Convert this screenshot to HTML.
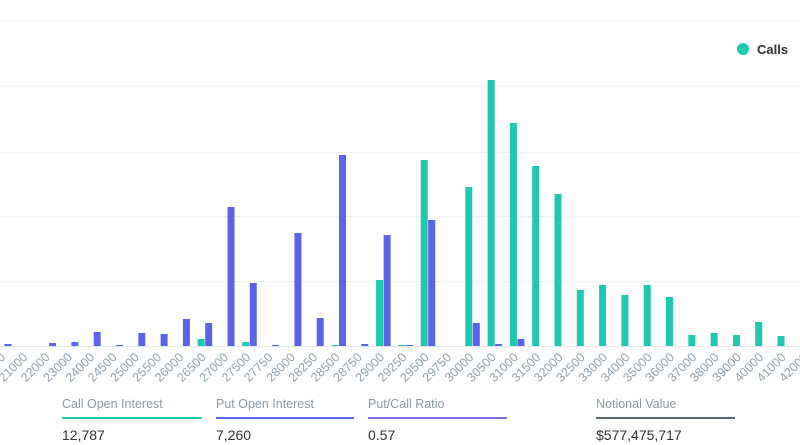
<!DOCTYPE html>
<html><head><meta charset="utf-8"><style>
body{margin:0;background:#fff;width:800px;height:445px;overflow:hidden;font-family:"Liberation Sans",sans-serif}
svg{position:absolute;left:0;top:0}
.l{font-size:12.5px;fill:#93a3ad}
</style></head><body>
<svg width="800" height="445" viewBox="0 0 800 445">
<g stroke="#eef0f2" stroke-width="1">
<line x1="0" x2="800" y1="20.5" y2="20.5"/><line x1="0" x2="800" y1="86.5" y2="86.5"/>
<line x1="0" x2="800" y1="152.5" y2="152.5"/><line x1="0" x2="800" y1="216.5" y2="216.5"/>
<line x1="0" x2="800" y1="281.5" y2="281.5"/><line x1="0" x2="800" y1="346.5" y2="346.5" stroke="#e3e7ea"/>
</g>
<circle cx="743" cy="49" r="6" fill="#1fc8ae"/>
<text x="757" y="54" font-size="13" font-weight="bold" fill="#333">Calls</text>
<g fill="#5c63e8">
<rect x="4.5" y="344" width="7" height="2"/>
<rect x="49.1" y="343" width="7" height="3"/>
<rect x="71.4" y="342" width="7" height="4"/>
<rect x="93.7" y="332" width="7" height="14"/>
<rect x="116" y="345" width="7" height="1"/>
<rect x="138.3" y="333" width="7" height="13"/>
<rect x="160.6" y="334" width="7" height="12"/>
<rect x="182.9" y="319" width="7" height="27"/>
<rect x="205.2" y="323" width="7" height="23"/>
<rect x="227.5" y="207" width="7" height="139"/>
<rect x="249.8" y="283" width="7" height="63"/>
<rect x="272.1" y="345" width="7" height="1"/>
<rect x="294.4" y="233" width="7" height="113"/>
<rect x="316.7" y="318" width="7" height="28"/>
<rect x="339" y="155" width="7" height="191"/>
<rect x="361.3" y="344" width="7" height="2"/>
<rect x="383.6" y="235" width="7" height="111"/>
<rect x="405.9" y="345" width="7" height="1"/>
<rect x="428.2" y="220" width="7" height="126"/>
<rect x="472.8" y="323" width="7" height="23"/>
<rect x="495.1" y="344" width="7" height="2"/>
<rect x="517.4" y="339" width="7" height="7"/>
</g>
<g fill="#1fc8ae">
<rect x="197.7" y="339" width="7" height="7"/>
<rect x="242.3" y="342" width="7" height="4"/>
<rect x="331.5" y="345" width="7" height="1"/>
<rect x="376.1" y="280" width="7" height="66"/>
<rect x="398.4" y="345" width="7" height="1"/>
<rect x="420.7" y="160" width="7" height="186"/>
<rect x="465.3" y="187" width="7" height="159"/>
<rect x="487.6" y="80" width="7" height="266"/>
<rect x="509.9" y="123" width="7" height="223"/>
<rect x="532.2" y="166" width="7" height="180"/>
<rect x="554.5" y="194" width="7" height="152"/>
<rect x="576.8" y="290" width="7" height="56"/>
<rect x="599.1" y="285" width="7" height="61"/>
<rect x="621.4" y="295" width="7" height="51"/>
<rect x="643.7" y="285" width="7" height="61"/>
<rect x="666" y="297" width="7" height="49"/>
<rect x="688.3" y="335" width="7" height="11"/>
<rect x="710.6" y="333" width="7" height="13"/>
<rect x="732.9" y="335" width="7" height="11"/>
<rect x="755.2" y="322" width="7" height="24"/>
<rect x="777.5" y="336" width="7" height="10"/>
</g>
<g class="l" text-anchor="end">
<text transform="translate(6,358) rotate(-45)">20000</text>
<text transform="translate(28.3,358) rotate(-45)">21000</text>
<text transform="translate(50.6,358) rotate(-45)">22000</text>
<text transform="translate(72.9,358) rotate(-45)">23000</text>
<text transform="translate(95.2,358) rotate(-45)">24000</text>
<text transform="translate(117.5,358) rotate(-45)">24500</text>
<text transform="translate(139.8,358) rotate(-45)">25000</text>
<text transform="translate(162.1,358) rotate(-45)">25500</text>
<text transform="translate(184.4,358) rotate(-45)">26000</text>
<text transform="translate(206.7,358) rotate(-45)">26500</text>
<text transform="translate(229,358) rotate(-45)">27000</text>
<text transform="translate(251.3,358) rotate(-45)">27500</text>
<text transform="translate(273.6,358) rotate(-45)">27750</text>
<text transform="translate(295.9,358) rotate(-45)">28000</text>
<text transform="translate(318.2,358) rotate(-45)">28250</text>
<text transform="translate(340.5,358) rotate(-45)">28500</text>
<text transform="translate(362.8,358) rotate(-45)">28750</text>
<text transform="translate(385.1,358) rotate(-45)">29000</text>
<text transform="translate(407.4,358) rotate(-45)">29250</text>
<text transform="translate(429.7,358) rotate(-45)">29500</text>
<text transform="translate(452,358) rotate(-45)">29750</text>
<text transform="translate(474.3,358) rotate(-45)">30000</text>
<text transform="translate(496.6,358) rotate(-45)">30500</text>
<text transform="translate(518.9,358) rotate(-45)">31000</text>
<text transform="translate(541.2,358) rotate(-45)">31500</text>
<text transform="translate(563.5,358) rotate(-45)">32000</text>
<text transform="translate(585.8,358) rotate(-45)">32500</text>
<text transform="translate(608.1,358) rotate(-45)">33000</text>
<text transform="translate(630.4,358) rotate(-45)">34000</text>
<text transform="translate(652.7,358) rotate(-45)">35000</text>
<text transform="translate(675,358) rotate(-45)">36000</text>
<text transform="translate(697.3,358) rotate(-45)">37000</text>
<text transform="translate(719.6,358) rotate(-45)">38000</text>
<text transform="translate(741.9,358) rotate(-45)">39000</text>
<text transform="translate(764.2,358) rotate(-45)">40000</text>
<text transform="translate(786.5,358) rotate(-45)">41000</text>
<text transform="translate(808.8,358) rotate(-45)">42000</text>
</g>
<g font-size="12.5" fill="#8c9ba3">
<text x="62" y="408">Call Open Interest</text>
<text x="216" y="408">Put Open Interest</text>
<text x="368" y="408">Put/Call Ratio</text>
<text x="596" y="408">Notional Value</text>
</g>
<rect x="62" y="417" width="140" height="2" fill="#1fc8ae"/>
<rect x="216" y="417" width="138" height="2" fill="#5c63e8"/>
<rect x="368" y="417" width="139" height="2" fill="#7b6fe0"/>
<rect x="596" y="417" width="139" height="2" fill="#5f6a70"/>
<g font-size="14" fill="#333">
<text x="62" y="440">12,787</text>
<text x="216" y="440">7,260</text>
<text x="368" y="440">0.57</text>
<text x="596" y="440">$577,475,717</text>
</g>
</svg>
</body></html>
